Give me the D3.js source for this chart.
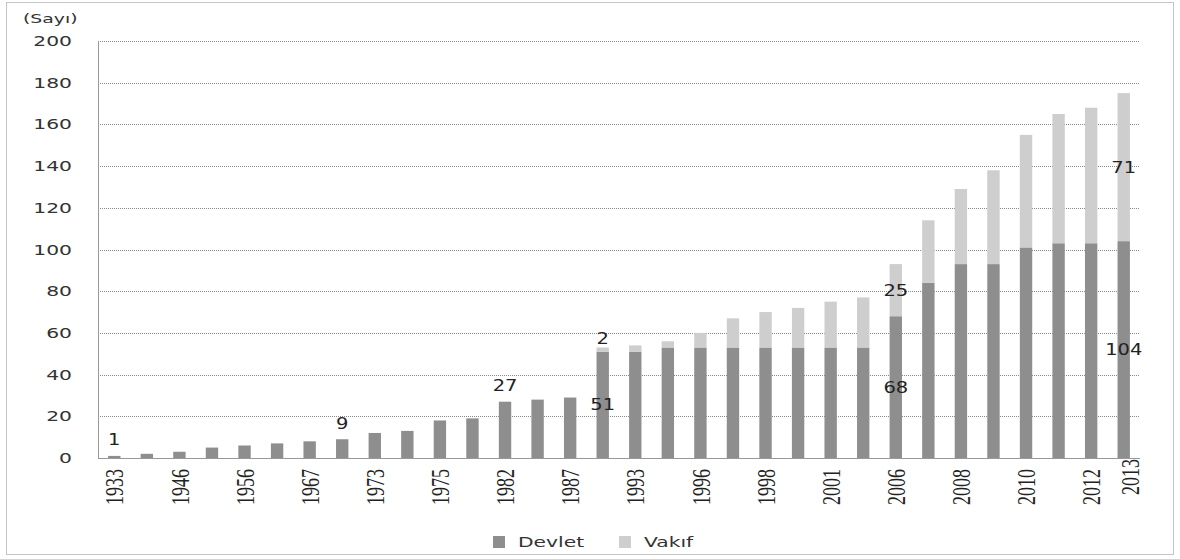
<!DOCTYPE html>
<html>
<head>
<meta charset="utf-8">
<script src="https://cdn.jsdelivr.net/npm/d3@7"></script>
<style>
  body { margin: 0; background: #fff; }
  svg { display: block; }
</style>
</head>
<body>
<svg id="chart" width="1180" height="559"></svg>
<script>
// values
var years = [1933, 1944, 1946, 1955, 1956, 1957, 1967, 1971, 1973, 1974, 1975, 1978, 1982, 1984, 1987, 1992,
             1993, 1994, 1996, 1997, 1998, 1999, 2001, 2003, 2006, 2007, 2008, 2009, 2010, 2011, 2012, 2013];
var devlet = [1, 2, 3, 5, 6, 7, 8, 9, 12, 13, 18, 19, 27, 28, 29, 51,
              51, 53, 53, 53, 53, 53, 53, 53, 68, 84, 93, 93, 101, 103, 103, 104];
var vakif = [0, 0, 0, 0, 0, 0, 0, 0, 0, 0, 0, 0, 0, 0, 0, 2,
             3, 3, 7, 14, 17, 19, 22, 24, 25, 30, 36, 45, 54, 62, 65, 71];
var shownYears = [1933, 1946, 1956, 1967, 1973, 1975, 1982, 1987, 1993, 1996, 1998, 2001, 2006, 2008, 2010, 2012, 2013];
var yTicks = [0, 20, 40, 60, 80, 100, 120, 140, 160, 180, 200];
// bars that carry a value label
var devletTopLabels = [0, 7, 12];      // label above the bar
var vakifTopLabels = [15];             // label above the stack
var devletMidLabels = [15, 24, 31];    // label inside the Devlet part
var vakifMidLabels = [24, 31];         // label inside the Vakıf part

var SX = 1.45; // picture is stretched sideways, so is its text
var colDevlet = "#8e8e8e";
var colVakif = "#cecece";

var svg = d3.select("#chart");
var plotL = 98, plotR = 1140, plotT = 41, plotB = 458;

var x = d3.scaleBand().domain(years).range([plotL, plotR]).paddingInner(0.62).paddingOuter(0.31);
var y = d3.scaleLinear().domain([0, 200]).range([plotB, plotT]);

// outer frame
svg.append("rect")
  .attr("x", 6.5).attr("y", 2.5).attr("width", 1167).attr("height", 552)
  .attr("fill", "none").attr("stroke", "#8a8a8a").attr("stroke-dasharray", "1,1");

// gridlines
svg.append("g").selectAll("line")
  .data(yTicks.filter(function (d) { return d > 0; }))
  .enter().append("line")
  .attr("x1", plotL).attr("x2", plotR)
  .attr("y1", function (d) { return Math.round(y(d)) + 0.5; })
  .attr("y2", function (d) { return Math.round(y(d)) + 0.5; })
  .attr("stroke", "#888").attr("stroke-dasharray", "1,1");

// axis lines
svg.append("line").attr("x1", plotL + 0.5).attr("x2", plotL + 0.5).attr("y1", plotT).attr("y2", plotB)
  .attr("stroke", "#999");
svg.append("line").attr("x1", plotL).attr("x2", plotR).attr("y1", plotB + 0.5).attr("y2", plotB + 0.5)
  .attr("stroke", "#999");

// y tick labels
svg.append("g").selectAll("text")
  .data(yTicks)
  .enter().append("text")
  .attr("transform", function (d) { return "translate(72," + y(d) + ") scale(" + SX + ",1)"; })
  .attr("text-anchor", "end").attr("dy", "0.36em")
  .style("font-family", "DejaVu Sans").style("font-size", "14px").style("fill", "#333")
  .text(function (d) { return d; });

svg.append("text")
  .attr("transform", "translate(23,23) scale(" + SX + ",1)")
  .style("font-family", "DejaVu Sans").style("font-size", "13px").style("fill", "#333")
  .text("(Sayı)");

// stacked bars
var bars = svg.append("g");
bars.selectAll(".dev")
  .data(years)
  .enter().append("rect").attr("class", "dev")
  .attr("x", function (d) { return x(d); })
  .attr("width", x.bandwidth())
  .attr("y", function (d, i) { return y(devlet[i]); })
  .attr("height", function (d, i) { return y(0) - y(devlet[i]); })
  .attr("fill", colDevlet);
bars.selectAll(".vak")
  .data(years)
  .enter().append("rect").attr("class", "vak")
  .attr("x", function (d) { return x(d); })
  .attr("width", x.bandwidth())
  .attr("y", function (d, i) { return y(devlet[i] + vakif[i]); })
  .attr("height", function (d, i) { return y(devlet[i]) - y(devlet[i] + vakif[i]); })
  .attr("fill", colVakif);

// x tick labels (rotated)
svg.append("g").selectAll("text")
  .data(shownYears)
  .enter().append("text")
  .attr("transform", function (d) {
    var cx = x(d) + x.bandwidth() / 2;
    var ty = 469;
    if (d === 2013) { cx += 6; ty = 459; }
    return "translate(" + cx + "," + ty + ") scale(" + SX + ",1) rotate(-90)";
  })
  .attr("text-anchor", "end").attr("dy", "0.35em")
  .style("font-family", "Liberation Serif").style("font-size", "18px").style("fill", "#222")
  .text(function (d) { return d; });

// value labels
function labelText(px, py, t) {
  svg.append("text")
    .attr("transform", "translate(" + px + "," + py + ") scale(" + 1.3 + ",1)")
    .attr("text-anchor", "middle").attr("dy", "0.36em")
    .style("font-family", "DejaVu Sans").style("font-size", "15px").style("fill", "#222")
    .text(t);
}
function cxOf(i) { return x(years[i]) + x.bandwidth() / 2; }
devletTopLabels.forEach(function (i) { labelText(cxOf(i), y(devlet[i]) - 16, devlet[i]); });
vakifTopLabels.forEach(function (i) { labelText(cxOf(i), y(devlet[i] + vakif[i]) - 9, vakif[i]); });
devletMidLabels.forEach(function (i) { labelText(cxOf(i), y(devlet[i] / 2), devlet[i]); });
vakifMidLabels.forEach(function (i) { labelText(cxOf(i), y(devlet[i] + vakif[i] / 2), vakif[i]); });

// legend
var legend = [{ name: "Devlet", col: colDevlet, x: 493 }, { name: "Vakıf", col: colVakif, x: 619 }];
var lg = svg.append("g").selectAll("g").data(legend).enter().append("g")
  .attr("transform", function (d) { return "translate(" + d.x + ",542)"; });
lg.append("rect").attr("x", 0).attr("y", -6).attr("width", 12).attr("height", 12)
  .attr("fill", function (d) { return d.col; });
lg.append("text")
  .attr("transform", "translate(25,0) scale(" + SX + ",1)")
  .attr("dy", "0.36em")
  .style("font-family", "DejaVu Sans").style("font-size", "14px").style("fill", "#333")
  .text(function (d) { return d.name; });
</script>
</body>
</html>
